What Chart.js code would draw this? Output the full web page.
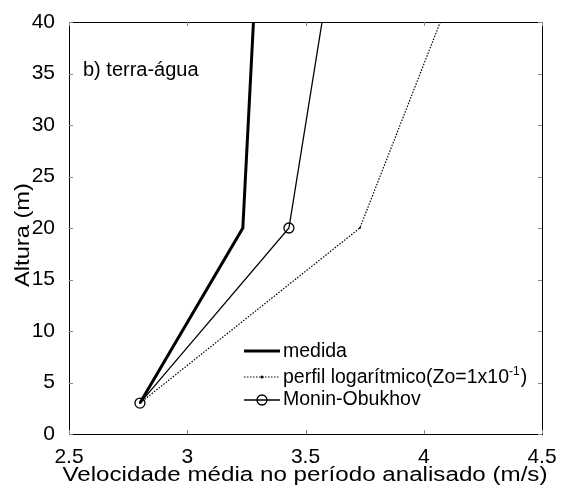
<!DOCTYPE html>
<html>
<head>
<meta charset="utf-8">
<script src="https://cdn.jsdelivr.net/npm/chart.js@4.4.1/dist/chart.umd.min.js"></script>
<style>
html, body { margin: 0; padding: 0; background: #fff; }
#wrap { width: 563px; height: 486px; }
</style>
</head>
<body>
<div id="wrap"><canvas id="chart" width="563" height="486"></canvas></div>
<script>
const alturas = [3, 20, 40];
const medida = [2.80, 3.235, 3.28];
const perfilLog = [2.80, 3.73, 4.07];
const moninObukhov = [2.80, 3.43, 3.57];
const xTicks = [2.5, 3, 3.5, 4, 4.5];
const yTicks = [0, 5, 10, 15, 20, 25, 30, 35, 40];

const FONT = 'Liberation Sans, Arial, sans-serif';

function pts(xs) {
	return xs.map((x, i) => ({x: x, y: alturas[i]}));
}

// escreve texto esticado ate a largura pedida
function stretchText(ctx, txt, x, y, width, angle) {
	const w = ctx.measureText(txt).width;
	ctx.save();
	ctx.translate(x, y);
	if (angle) ctx.rotate(angle);
	ctx.scale(width / w, 1);
	ctx.fillText(txt, 0, 0);
	ctx.restore();
}

// caixa, ticks internos, textos e legenda no estilo matlab
const matlabBox = {
	id: 'matlabBox',
	afterDraw(chart) {
		const ctx = chart.ctx;
		const a = chart.chartArea;
		const sx = chart.scales.x, sy = chart.scales.y;
		ctx.save();
		ctx.strokeStyle = '#000';
		ctx.lineWidth = 1;
		ctx.strokeRect(a.left + 0.5, a.top + 0.5, a.right - a.left, a.bottom - a.top);
		ctx.strokeStyle = '#888';
		xTicks.forEach(v => {
			const px = Math.round(sx.getPixelForValue(v)) + 0.5;
			ctx.beginPath();
			ctx.moveTo(px, a.bottom); ctx.lineTo(px, a.bottom - 4);
			ctx.moveTo(px, a.top); ctx.lineTo(px, a.top + 4);
			ctx.stroke();
		});
		yTicks.forEach(v => {
			const py = Math.round(sy.getPixelForValue(v)) + 0.5;
			ctx.beginPath();
			ctx.moveTo(a.left, py); ctx.lineTo(a.left + 4, py);
			ctx.moveTo(a.right, py); ctx.lineTo(a.right - 4, py);
			ctx.stroke();
		});

		ctx.fillStyle = '#000';

		// titulos dos eixos
		ctx.textBaseline = 'alphabetic';
		ctx.textAlign = 'center';
		ctx.font = '20px ' + FONT;
		stretchText(ctx, 'Velocidade média no período analisado (m/s)', 305, 481, 485, 0);
		ctx.font = '21px ' + FONT;
		stretchText(ctx, 'Altura (m)', 29, 235, 104, -Math.PI / 2);

		ctx.textAlign = 'left';
		ctx.font = '20px ' + FONT;
		ctx.fillText('b) terra-água', 83, 76);

		// legenda
		const lx0 = 244, lx1 = 280, tx = 283;
		const rows = [351, 377, 400];
		ctx.strokeStyle = '#000';
		ctx.lineWidth = 3;
		ctx.beginPath(); ctx.moveTo(lx0, rows[0]); ctx.lineTo(lx1, rows[0]); ctx.stroke();
		ctx.lineWidth = 1.2;
		ctx.setLineDash([1.5, 1.5]);
		ctx.beginPath(); ctx.moveTo(lx0, rows[1]); ctx.lineTo(lx1, rows[1]); ctx.stroke();
		ctx.setLineDash([]);
		ctx.beginPath(); ctx.arc((lx0 + lx1) / 2, rows[1], 1.5, 0, Math.PI * 2); ctx.fill();
		ctx.lineWidth = 1.3;
		ctx.beginPath(); ctx.moveTo(lx0, rows[2]); ctx.lineTo(lx1, rows[2]); ctx.stroke();
		ctx.beginPath(); ctx.arc((lx0 + lx1) / 2, rows[2], 5, 0, Math.PI * 2); ctx.stroke();

		ctx.font = '19.5px ' + FONT;
		ctx.fillText('medida', tx, 357);
		const t1 = 'perfil logarítmico(Zo=1x10';
		ctx.fillText(t1, tx, 383);
		const w = ctx.measureText(t1).width;
		ctx.font = '12px ' + FONT;
		ctx.fillText('-1', tx + w, 375);
		const w2 = ctx.measureText('-1').width;
		ctx.font = '19.5px ' + FONT;
		ctx.fillText(')', tx + w + w2 + 1, 383);
		ctx.fillText('Monin-Obukhov', tx, 405);
		ctx.restore();
	}
};

new Chart(document.getElementById('chart'), {
	type: 'scatter',
	data: {
		datasets: [{
			label: 'medida',
			data: pts(medida),
			showLine: true,
			borderColor: '#000',
			borderWidth: 3,
			pointRadius: 0
		}, {
			label: 'perfil logarítmico(Zo=1x10-1)',
			data: pts(perfilLog),
			showLine: true,
			borderColor: '#000',
			borderWidth: 1.2,
			borderDash: [1.5, 1.5],
			pointRadius: [1, 1, 0],
			pointBackgroundColor: '#000',
			pointBorderWidth: 0
		}, {
			label: 'Monin-Obukhov',
			data: pts(moninObukhov),
			showLine: true,
			borderColor: '#000',
			borderWidth: 1.3,
			pointRadius: [5, 5, 0],
			pointBorderColor: '#000',
			pointBorderWidth: 1.3,
			pointBackgroundColor: 'rgba(0,0,0,0)'
		}]
	},
	options: {
		responsive: false,
		animation: false,
		layout: {padding: {top: 22, right: 21, left: 0, bottom: 0}},
		plugins: {legend: {display: false}, tooltip: {enabled: false}},
		scales: {
			x: {
				type: 'linear',
				min: 2.5, max: 4.5,
				afterBuildTicks: s => { s.ticks = xTicks.map(v => ({value: v})); },
				afterFit: s => { s.height = 52; },
				grid: {display: false},
				border: {display: false},
				ticks: {color: '#000', font: {size: 21, family: FONT}, padding: 3, maxRotation: 0,
					callback: v => String(v)}
			},
			y: {
				type: 'linear',
				min: 0, max: 40,
				afterBuildTicks: s => { s.ticks = yTicks.map(v => ({value: v})); },
				afterFit: s => { s.width = 69; },
				grid: {display: false},
				border: {display: false},
				ticks: {color: '#000', font: {size: 21, family: FONT}, padding: 6,
					callback: v => String(v)}
			}
		}
	},
	plugins: [matlabBox]
});
</script>
</body>
</html>
